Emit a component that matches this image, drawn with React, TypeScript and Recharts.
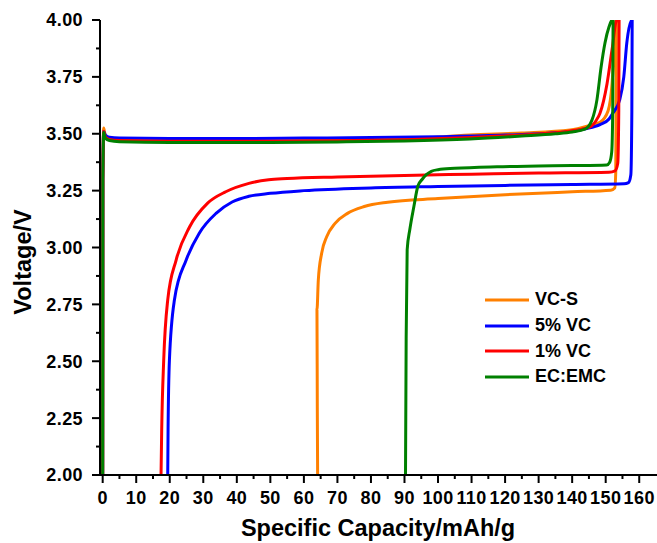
import React from 'react';
import { LineChart, Line, XAxis, YAxis, Legend, Label } from 'recharts';

// [capacity mAh/g, voltage V]
const vcsCharge = [[0, 2.0], [0.05, 3.3], [0.3, 3.525], [0.8, 3.49], [2, 3.478], [5, 3.472], [15, 3.469], [30, 3.468], [50, 3.469], [70, 3.471], [90, 3.476], [109.5, 3.495], [125, 3.503], [139.4, 3.516], [145, 3.535], [148.3, 3.55], [150.7, 3.6], [151.9, 3.72], [152.5, 3.86], [153, 4.0]];
const vcsDischarge = [[153.2, 4.0], [153.1, 3.6], [153, 3.33], [152.7, 3.262], [151.5, 3.252], [140, 3.245], [120, 3.232], [100, 3.215], [85, 3.199], [78, 3.18], [73, 3.15], [69.3, 3.106], [66.8, 3.047], [65.3, 2.975], [64.3, 2.857], [63.9, 2.725], [64.0, 2.3], [64.1, 2.0]];

const vc5Charge = [[0, 2.0], [0.05, 3.3], [0.3, 3.51], [0.8, 3.495], [2, 3.485], [5, 3.481], [20, 3.479], [40, 3.479], [60, 3.481], [80, 3.483], [100, 3.487], [120, 3.494], [139.4, 3.51], [144, 3.522], [148.3, 3.54], [151, 3.565], [152.1, 3.59], [154.2, 3.65], [155.4, 3.75], [156.3, 3.9], [157.8, 4.0]];
const vc5Discharge = [[157.9, 4.0], [157.8, 3.6], [157.5, 3.32], [156.8, 3.285], [155.5, 3.28], [140, 3.277], [120, 3.273], [100, 3.268], [80, 3.262], [60, 3.25], [50, 3.238], [43.6, 3.225], [38.6, 3.2], [33.8, 3.15], [28.8, 3.063], [24.9, 2.945], [21.4, 2.77], [19.9, 2.505], [19.5, 2.2], [19.4, 2.0]];

const vc1Charge = [[0, 2.0], [0.05, 3.3], [0.3, 3.51], [0.8, 3.485], [2, 3.475], [5, 3.47], [20, 3.467], [50, 3.467], [70, 3.469], [90, 3.474], [110, 3.484], [125, 3.495], [139.4, 3.512], [145.3, 3.53], [147, 3.555], [148.3, 3.59], [150.4, 3.72], [151.9, 3.87], [153.3, 4.0]];
const vc1Discharge = [[154, 4.0], [153.9, 3.6], [153.6, 3.37], [152.8, 3.337], [151, 3.331], [130, 3.327], [110, 3.322], [90, 3.317], [70, 3.31], [55, 3.303], [49.5, 3.298], [43.6, 3.282], [36.7, 3.245], [31.3, 3.195], [25.9, 3.09], [21.9, 2.945], [19.4, 2.77], [18.2, 2.505], [17.6, 2.2], [17.4, 2.0]];

const ecCharge = [[0, 2.0], [0.05, 3.3], [0.3, 3.505], [0.8, 3.48], [2, 3.47], [5, 3.465], [20, 3.462], [50, 3.462], [70, 3.464], [90, 3.468], [109.5, 3.477], [125, 3.49], [135, 3.5], [140, 3.508], [143.8, 3.52], [145.9, 3.56], [147.4, 3.65], [148.6, 3.79], [149.8, 3.9], [151, 3.97], [151.9, 4.0]];
const ecDischarge = [[152.2, 4.0], [152.1, 3.6], [151.8, 3.42], [151.2, 3.375], [150.3, 3.363], [140, 3.36], [130, 3.358], [117.6, 3.355], [105, 3.348], [100, 3.342], [98, 3.335], [96.5, 3.32], [95.3, 3.3], [94, 3.27], [92.8, 3.18], [91.6, 3.08], [90.8, 2.99], [90.5, 2.6], [90.3, 2.0]];

const seriesNames = ['VC-S', '5% VC', '1% VC', 'EC:EMC'];
const seriesColors = ['#ff8000', '#0000ff', '#ff0000', '#008000'];
const seriesCurves = [[vcsCharge, vcsDischarge], [vc5Charge, vc5Discharge], [vc1Charge, vc1Discharge], [ecCharge, ecDischarge]];

const xTicks = Array.from({ length: 33 }, (_, i) => i * 5);
const yTicks = Array.from({ length: 17 }, (_, i) => 2 + i * 0.125);

const FONT = '"Liberation Sans", Arial, Helvetica, sans-serif';

const toPoints = (curves: number[][][]) =>
  curves.flat().map(([x, v]) => ({ x, v }));

function XTick(props: any) {
  const { x, y, payload } = props;
  const major = payload.value % 10 === 0;
  return (
    <g>
      <line x1={x} x2={x} y1={y} y2={y + (major ? 8 : 4)} stroke="#000" strokeWidth={2} />
      {major && (
        <text x={x} y={y + 29} textAnchor="middle" fontFamily={FONT} fontWeight="bold" fontSize={18} letterSpacing={0.4} fill="#000">
          {payload.value}
        </text>
      )}
    </g>
  );
}

function YTick(props: any) {
  const { x, y, payload } = props;
  const q = payload.value * 4;
  const major = Math.abs(q - Math.round(q)) < 1e-6;
  return (
    <g>
      <line x1={x} x2={x - (major ? 8 : 4)} y1={y} y2={y} stroke="#000" strokeWidth={2} />
      {major && (
        <text x={x - 17} y={y} dy="0.36em" textAnchor="end" fontFamily={FONT} fontWeight="bold" fontSize={18} letterSpacing={0.4} fill="#000">
          {payload.value.toFixed(2)}
        </text>
      )}
    </g>
  );
}

function LegendBox() {
  return (
    <div style={{ fontFamily: FONT, fontWeight: 'bold', fontSize: 18 }}>
      {seriesNames.map((name, i) => (
        <div key={name} style={{ display: 'flex', alignItems: 'center', height: 25.7 }}>
          <svg width={44} height={6} style={{ marginRight: 6 }}>
            <line x1={0} x2={44} y1={3} y2={3} stroke={seriesColors[i]} strokeWidth={3} />
          </svg>
          <span>{name}</span>
        </div>
      ))}
    </div>
  );
}

export default function App() {
  return (
    <div style={{ position: 'absolute', left: 0, top: 0, background: '#fff' }}>
      <LineChart width={657} height={543} margin={{ top: 20, right: 0, bottom: 0, left: 0 }}>
        <XAxis
          type="number"
          dataKey="x"
          domain={[-0.8, 165.3]}
          allowDataOverflow
          ticks={xTicks}
          interval={0}
          tickSize={0}
          tickMargin={0}
          tick={<XTick />}
          height={68}
          axisLine={{ stroke: '#000', strokeWidth: 2 }}
        >
          <Label
            content={() => (
              <text x={378} y={536} textAnchor="middle" fontFamily={FONT} fontWeight="bold" fontSize={23.5} fill="#000">
                Specific Capacity/mAh/g
              </text>
            )}
          />
        </XAxis>
        <YAxis
          type="number"
          dataKey="v"
          domain={[2, 4]}
          allowDataOverflow
          ticks={yTicks}
          interval={0}
          tickSize={0}
          tickMargin={0}
          tick={<YTick />}
          width={100}
          axisLine={{ stroke: '#000', strokeWidth: 2 }}
        >
          <Label
            content={() => (
              <text
                x={23}
                y={262}
                transform="rotate(-90 23 262)"
                textAnchor="middle"
                dominantBaseline="central"
                fontFamily={FONT}
                fontWeight="bold"
                fontSize={23.5}
                fill="#000"
              >
                Voltage/V
              </text>
            )}
          />
        </YAxis>
        {seriesNames.map((name, i) => (
          <Line
            key={name}
            name={name}
            data={toPoints(seriesCurves[i])}
            dataKey="v"
            type="monotone"
            stroke={seriesColors[i]}
            strokeWidth={3}
            dot={false}
            activeDot={false}
            isAnimationActive={false}
          />
        ))}
        <Legend
          layout="vertical"
          align="center"
          verticalAlign="middle"
          content={<LegendBox />}
          wrapperStyle={{ left: 485, top: 287, width: 'auto' }}
        />
      </LineChart>
    </div>
  );
}
